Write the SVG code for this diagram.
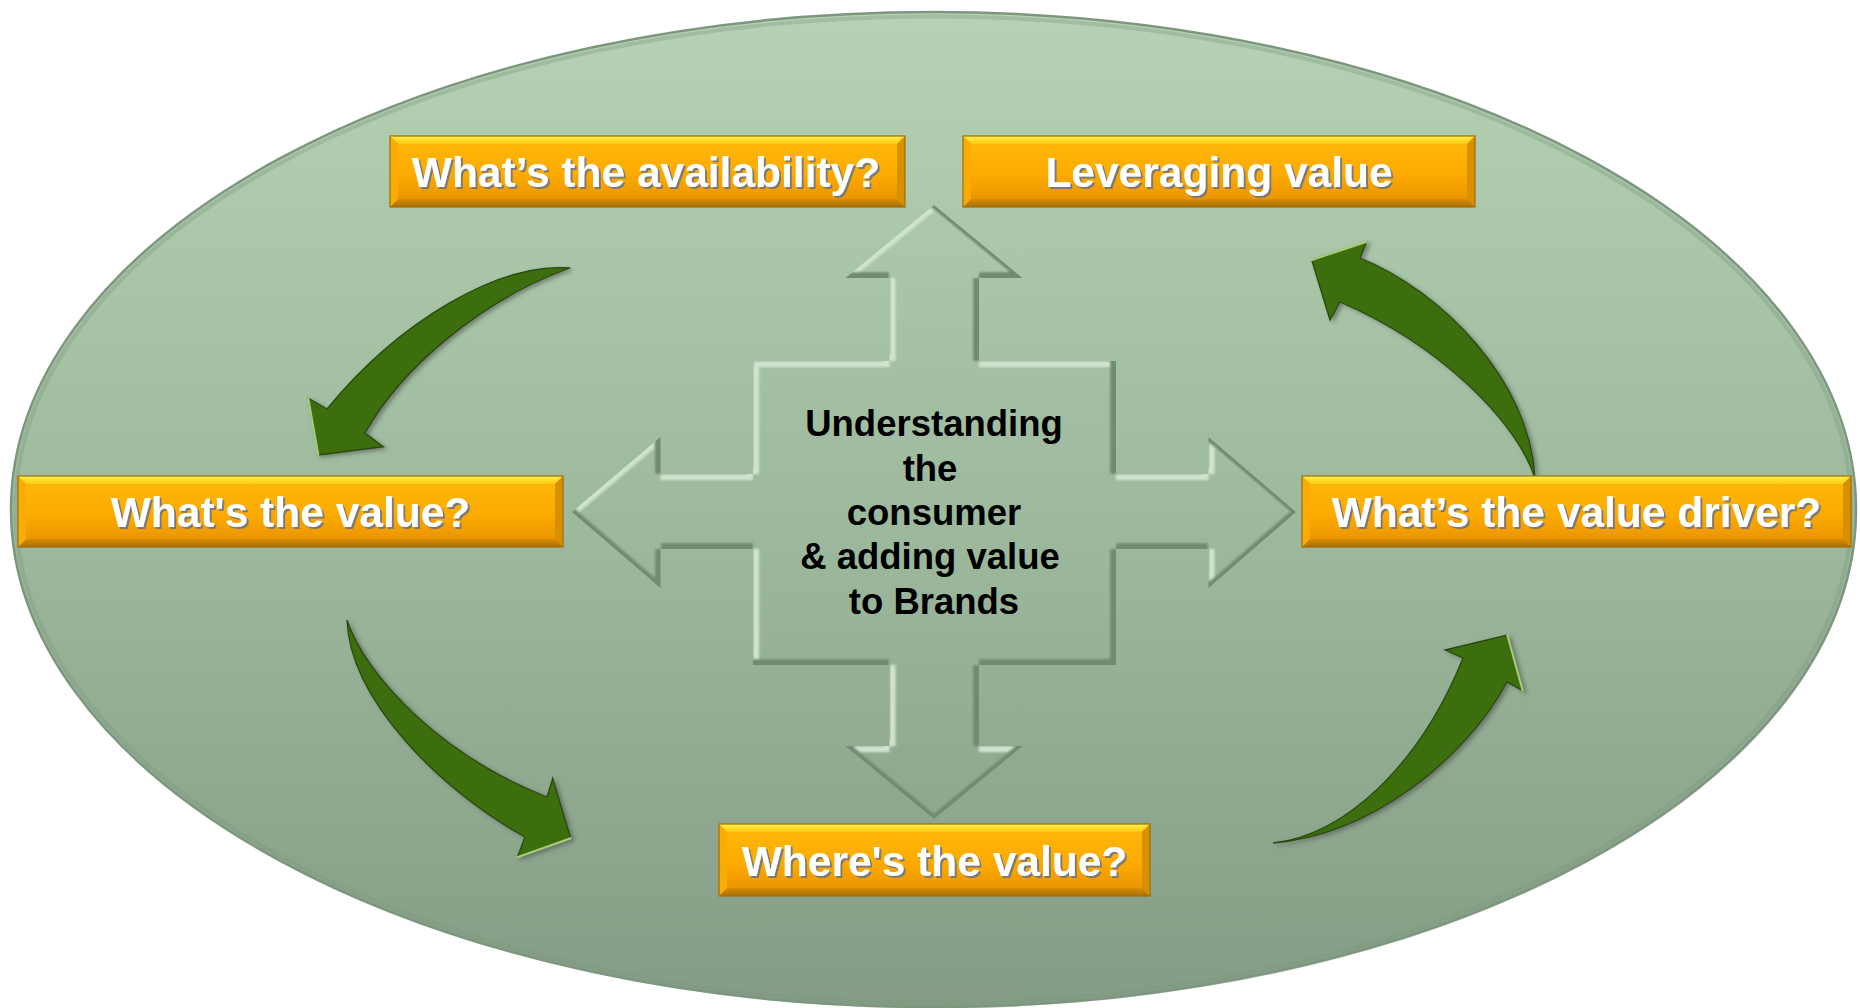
<svg xmlns="http://www.w3.org/2000/svg" xmlns:xlink="http://www.w3.org/1999/xlink" width="1860" height="1008" viewBox="0 0 1860 1008">
  <defs>
    <style>
      .face { fill: url(#gFace); }
      .bt { fill: url(#gTop); }
      .bb { fill: url(#gBot); }
      .bl { fill: #F9AC02; }
      .br { fill: #D99000; }
      .edge { fill: none; stroke: #A36B06; stroke-width: 1.2; }
      .lbl { font-family: "Liberation Sans", Arial, Helvetica, sans-serif; font-weight: bold; font-size: 42.5px; fill: #ffffff; text-anchor: middle; filter: url(#txtShadow); }
      .core { font-family: "Liberation Sans", Arial, Helvetica, sans-serif; font-weight: bold; font-size: 36.5px; fill: #000000; text-anchor: middle; }
      .curve { fill: #3E6E0E; stroke: #284A07; stroke-width: 1.3; stroke-linejoin: miter; }
      .hl { fill: none; stroke: #A9CC7A; stroke-width: 2; stroke-linecap: round; }
    </style>

    <!-- background oval -->
    <linearGradient id="gBg" gradientUnits="userSpaceOnUse" x1="0" y1="12" x2="0" y2="1007">
      <stop offset="0" stop-color="#B5D2B4"/>
      <stop offset="0.5" stop-color="#9EBA9E"/>
      <stop offset="1" stop-color="#849C85"/>
    </linearGradient>

    <!-- orange label boxes -->
    <linearGradient id="gFace" x1="0" y1="0" x2="0" y2="1">
      <stop offset="0" stop-color="#FFB90C"/>
      <stop offset="0.55" stop-color="#FCAA00"/>
      <stop offset="1" stop-color="#E58F00"/>
    </linearGradient>
    <linearGradient id="gTop" x1="0" y1="0" x2="0" y2="1">
      <stop offset="0" stop-color="#FFF24C"/>
      <stop offset="1" stop-color="#FFC812"/>
    </linearGradient>
    <linearGradient id="gBot" x1="0" y1="0" x2="0" y2="1">
      <stop offset="0" stop-color="#D88C00"/>
      <stop offset="1" stop-color="#A96F08"/>
    </linearGradient>

    <filter id="txtShadow" x="-5%" y="-20%" width="110%" height="150%">
      <feDropShadow dx="2" dy="2" stdDeviation="0.6" flood-color="#6E7684" flood-opacity="0.9"/>
    </filter>
    <filter id="arrowShadow" x="-20%" y="-20%" width="140%" height="140%">
      <feDropShadow dx="3" dy="2" stdDeviation="2" flood-color="#4A4A4A" flood-opacity="0.55"/>
    </filter>
    <filter id="soft" x="-5%" y="-5%" width="110%" height="110%">
      <feGaussianBlur stdDeviation="1.3"/>
    </filter>

    <!-- four-way cross outline -->
    <path id="crossShape" d="M934,205 L1022.5,278 L979,278 L979,361 L1116,361 L1116,474 L1208.5,474 L1208.5,437 L1296,512 L1208.5,588 L1208.5,549 L1116,549 L1116,665 L979,665 L979,746 L1022.5,746 L934,819 L845.5,746 L889.5,746 L889.5,665 L753,665 L753,549 L660.5,549 L660.5,588 L572,512 L660.5,437 L660.5,474 L753,474 L753,361 L889.5,361 L889.5,278 L845.5,278 Z"/>
    <clipPath id="cS"><use xlink:href="#crossShape"/></clipPath>
    <clipPath id="cUp"><use xlink:href="#crossShape" transform="translate(0,-6)"/></clipPath>
    <clipPath id="cLeft"><use xlink:href="#crossShape" transform="translate(-6,0)"/></clipPath>
    <clipPath id="cDown"><use xlink:href="#crossShape" transform="translate(0,6)"/></clipPath>
    <clipPath id="cRight"><use xlink:href="#crossShape" transform="translate(6,0)"/></clipPath>
  </defs>

  <rect x="0" y="0" width="1860" height="1008" fill="#ffffff"/>

  <!-- background oval with soft rim -->
  <g id="backdrop">
    <ellipse cx="934.5" cy="511" rx="922.5" ry="497.5" fill="#6F7F70" opacity="0.45"/>
    <ellipse cx="933.5" cy="509.5" rx="922.5" ry="497.5" fill="url(#gBg)" stroke="#7D977E" stroke-width="2.5"/>
    <ellipse cx="933.5" cy="509.5" rx="918" ry="493" fill="none" stroke="#7E987F" stroke-width="4" opacity="0.35"/>
  </g>

  <!-- central embossed cross: dark lower/right bevel, light upper/left bevel, flat face -->
  <g id="center-cross">
    <g clip-path="url(#cS)">
      <g filter="url(#soft)">
        <rect x="550" y="190" width="770" height="650" fill="#718B72"/>
        <g clip-path="url(#cUp)">
          <g clip-path="url(#cLeft)">
            <rect x="550" y="190" width="770" height="650" fill="#D0E3CE"/>
            <g clip-path="url(#cDown)">
              <g clip-path="url(#cRight)">
                <rect x="550" y="190" width="770" height="650" fill="url(#gBg)"/>
              </g>
            </g>
          </g>
        </g>
      </g>
    </g>
    <text class="core" x="934" y="436">Understanding</text>
    <text class="core" x="930" y="481">the</text>
    <text class="core" x="934" y="525">consumer</text>
    <text class="core" x="930" y="569">&amp; adding value</text>
    <text class="core" x="934" y="614">to Brands</text>
  </g>

  <!-- curved cycle arrows -->
  <g id="connectors" filter="url(#arrowShadow)">
    <!-- availability -> value -->
    <path class="curve" d="M570,268 C500,262 400,320 327,409 L308.3,398.3 L318.3,455 L383.3,446.7 L365,433 C400,370 480,300 570,268 Z"/>
    <line class="hl" x1="308.3" y1="398.3" x2="318.3" y2="455"/>
    <!-- value -> where -->
    <path class="curve" d="M347,620 C365,675 440,755 547,797 L552.7,778.3 L570.7,838.3 L517.3,857.3 L525,837 C440,790 350,700 347,620 Z"/>
    <line class="hl" x1="570.7" y1="838.3" x2="517.3" y2="857.3"/>
    <!-- where -> value driver -->
    <path class="curve" d="M1273,843 C1345,835 1420,765 1463,658 L1445,650 L1507.3,635 L1522.7,690.7 L1507,682 C1465,760 1370,835 1273,843 Z"/>
    <line class="hl" x1="1507.3" y1="635" x2="1522.7" y2="690.7"/>
    <!-- value driver -> leveraging -->
    <path class="curve" d="M1535,478 C1515,420 1440,345 1340,302 L1330,320 L1311.7,260 L1366.7,241.7 L1360,258 C1440,290 1530,380 1535,478 Z"/>
    <line class="hl" x1="1366.7" y1="241.7" x2="1311.7" y2="260"/>
  </g>

  <!-- label boxes -->
  <g id="box-availability">
    <rect class="face" x="390" y="136" width="515" height="71"/>
    <path class="bt" d="M390,136 H905 L897,144 H398 Z"/>
    <path class="bb" d="M390,207 H905 L897,199 H398 Z"/>
    <path class="bl" d="M390,136 V207 L398,199 V144 Z"/>
    <path class="br" d="M905,136 V207 L897,199 V144 Z"/>
    <rect class="edge" x="390" y="136" width="515" height="71"/>
    <text class="lbl" x="646" y="187">What’s the availability?</text>
  </g>

  <g id="box-leveraging">
    <rect class="face" x="963" y="136" width="512" height="71"/>
    <path class="bt" d="M963,136 H1475 L1467,144 H971 Z"/>
    <path class="bb" d="M963,207 H1475 L1467,199 H971 Z"/>
    <path class="bl" d="M963,136 V207 L971,199 V144 Z"/>
    <path class="br" d="M1475,136 V207 L1467,199 V144 Z"/>
    <rect class="edge" x="963" y="136" width="512" height="71"/>
    <text class="lbl" x="1219" y="187">Leveraging value</text>
  </g>

  <g id="box-value">
    <rect class="face" x="18" y="476" width="545" height="71"/>
    <path class="bt" d="M18,476 H563 L555,484 H26 Z"/>
    <path class="bb" d="M18,547 H563 L555,539 H26 Z"/>
    <path class="bl" d="M18,476 V547 L26,539 V484 Z"/>
    <path class="br" d="M563,476 V547 L555,539 V484 Z"/>
    <rect class="edge" x="18" y="476" width="545" height="71"/>
    <text class="lbl" x="290.5" y="527">What's the value?</text>
  </g>

  <g id="box-driver">
    <rect class="face" x="1302" y="476" width="549" height="71"/>
    <path class="bt" d="M1302,476 H1851 L1843,484 H1310 Z"/>
    <path class="bb" d="M1302,547 H1851 L1843,539 H1310 Z"/>
    <path class="bl" d="M1302,476 V547 L1310,539 V484 Z"/>
    <path class="br" d="M1851,476 V547 L1843,539 V484 Z"/>
    <rect class="edge" x="1302" y="476" width="549" height="71"/>
    <text class="lbl" x="1576.5" y="527">What’s the value driver?</text>
  </g>

  <g id="box-where">
    <rect class="face" x="719" y="824" width="431" height="72"/>
    <path class="bt" d="M719,824 H1150 L1142,832 H727 Z"/>
    <path class="bb" d="M719,896 H1150 L1142,888 H727 Z"/>
    <path class="bl" d="M719,824 V896 L727,888 V832 Z"/>
    <path class="br" d="M1150,824 V896 L1142,888 V832 Z"/>
    <rect class="edge" x="719" y="824" width="431" height="72"/>
    <text class="lbl" x="934.5" y="876">Where's the value?</text>
  </g>
</svg>
